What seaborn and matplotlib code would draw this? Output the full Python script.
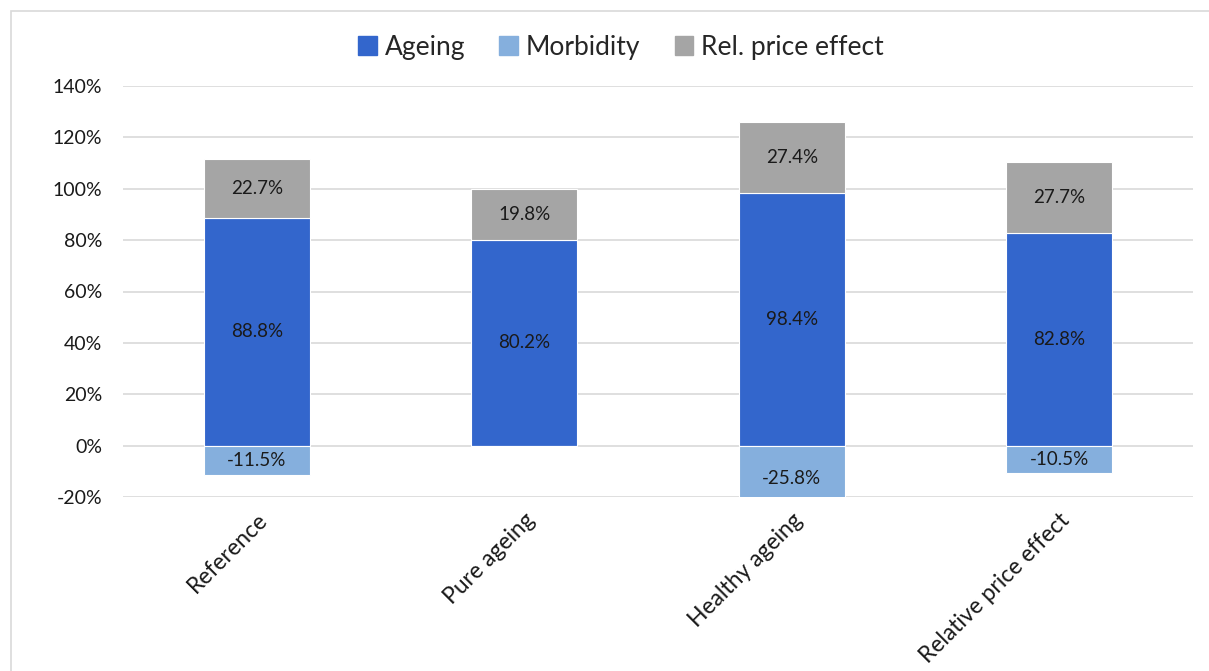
import matplotlib
matplotlib.use("Agg")
import matplotlib.pyplot as plt
import seaborn as sns
import numpy as np
from matplotlib.patches import Rectangle

scenarios = ["Reference", "Pure ageing", "Healthy ageing", "Relative price effect"]
ageing = [88.8, 80.2, 98.4, 82.8]
morbidity = [-11.5, 0.0, -25.8, -10.5]
price_effect = [22.7, 19.8, 27.4, 27.7]
y_ticks = [-20, 0, 20, 40, 60, 80, 100, 120, 140]

c_ageing = "#3366CC"
c_morb = "#85AFDD"
c_price = "#A5A5A5"

sns.set_theme(style="white")
plt.rcParams["font.family"] = ["Lato", "DejaVu Sans"]

fig = plt.figure(figsize=(12.09, 6.71), dpi=100)
ax = fig.add_axes([123 / 1209, 1 - 497 / 671, (1193 - 123) / 1209, (497 - 86) / 671])

bar_kw = dict(width=0.397, edgecolor="white", linewidth=0.8, ax=ax, zorder=3,
              saturation=1)
sns.barplot(x=scenarios, y=ageing, color=c_ageing, **bar_kw)
sns.barplot(x=scenarios, y=price_effect, bottom=ageing, color=c_price, **bar_kw)
sns.barplot(x=scenarios, y=morbidity, color=c_morb, **bar_kw)

ax.set_ylim(-20, 140)
ax.set_xlim(-0.5, 3.5)
ax.set_yticks(y_ticks)
ax.set_yticklabels([f"{t}%" for t in y_ticks], fontsize=14, color="#1a1a1a")
ax.yaxis.grid(True, color="#D9D9D9", linewidth=1.2, zorder=0)
ax.set_axisbelow(True)
ax.tick_params(axis="y", length=0, pad=15)
ax.tick_params(axis="x", length=0, pad=9)
ax.set_xticks(range(len(scenarios)))
ax.set_xticklabels(scenarios, rotation=45, ha="right", rotation_mode="anchor",
                   fontsize=16.5, color="#1a1a1a")
for s in ax.spines.values():
    s.set_visible(False)
ax.set_xlabel("")
ax.set_ylabel("")

# value labels centred on each segment
lbl = dict(ha="center", va="center", fontsize=13.5, color="#1a1a1a", zorder=5)
for i in range(len(scenarios)):
    ax.text(i, ageing[i] / 2, f"{ageing[i]:.1f}%", **lbl)
    ax.text(i, ageing[i] + price_effect[i] / 2, f"{price_effect[i]:.1f}%", **lbl)
    if morbidity[i] != 0:
        ax.text(i, morbidity[i] / 2, f"{morbidity[i]:.1f}%", **lbl)

handles = [Rectangle((0, 0), 1, 1, color=c) for c in (c_ageing, c_morb, c_price)]
fig.legend(handles, ["Ageing", "Morbidity", "Rel. price effect"],
           loc="center", bbox_to_anchor=(621 / 1209, 1 - 47 / 671), ncol=3,
           frameon=False, fontsize=19, handlelength=0.7, handleheight=0.7,
           handletextpad=0.3, columnspacing=1.3)

# chart frame
fig.patches.append(Rectangle((11 / 1209, -0.05), 1.1, 1 - 11 / 671 + 0.05,
                             transform=fig.transFigure, fill=False,
                             edgecolor="#D9D9D9", linewidth=1.2))

fig.savefig("out.png", dpi=100)
